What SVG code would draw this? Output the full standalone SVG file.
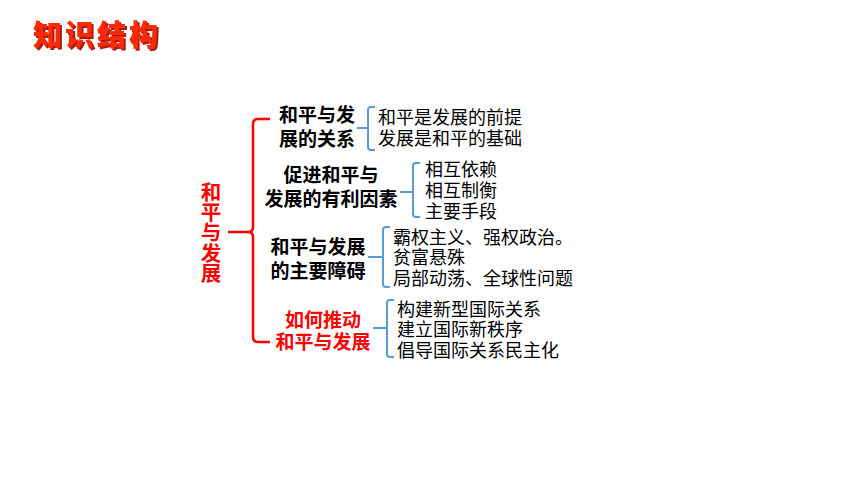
<svg xmlns="http://www.w3.org/2000/svg" width="860" height="484" viewBox="0 0 860 484">
<defs>
<filter id="sh" x="-10%" y="-20%" width="130%" height="150%">
<feDropShadow dx="2" dy="2" stdDeviation="0.6" flood-color="#a00000" flood-opacity="0.9"/>
</filter>
</defs>
<style>
.title{font-family:"Noto Sans CJK SC","Noto Sans CJK JP",sans-serif;font-weight:900;font-size:29px;letter-spacing:3px;fill:#ff2a00}
.node{font-family:"Noto Sans CJK SC","Noto Sans CJK JP",sans-serif;font-weight:700;font-size:19px;text-anchor:middle;fill:#000}
.red{fill:#ff0000}
.vert{font-size:20.5px;writing-mode:vertical-rl;text-anchor:start;letter-spacing:-0.3px}
.item{font-family:"Noto Sans CJK SC","Noto Sans CJK JP",sans-serif;font-size:18px;fill:#000}
.br{fill:none;stroke:#5b9bd5;stroke-width:2}
.rb{fill:none;stroke:#ff0000;stroke-width:2.5}
</style>
<rect width="860" height="484" fill="#ffffff"/>
<g id="title">
<text class="title" x="33" y="46" filter="url(#sh)">知识结构</text>
</g>
<g id="root">
<text class="node red vert" x="211" y="182">和平与发展</text>
</g>
<g id="n1"><text class="node" x="317" y="122">和平与发<tspan x="317" dy="24">展的关系</tspan></text></g>
<g id="n2"><text class="node" x="331" y="182">促进和平与<tspan x="331" dy="24">发展的有利因素</tspan></text></g>
<g id="n3"><text class="node" x="318" y="254">和平与发展<tspan x="318" dy="24">的主要障碍</tspan></text></g>
<g id="n4"><text class="node red" x="323" y="327">如何推动<tspan x="323" dy="22">和平与发展</tspan></text></g>
<g id="i1"><text class="item" x="378" y="124">和平是发展的前提<tspan x="378" dy="21">发展是和平的基础</tspan></text></g>
<g id="i2"><text class="item" x="425" y="176">相互依赖<tspan x="425" dy="21">相互制衡</tspan><tspan x="425" dy="21">主要手段</tspan></text></g>
<g id="i3"><text class="item" x="393" y="244">霸权主义、强权政治。<tspan x="393" dy="20">贫富悬殊</tspan><tspan x="393" dy="21">局部动荡、全球性问题</tspan></text></g>
<g id="i4"><text class="item" x="397" y="316">构建新型国际关系<tspan x="397" dy="20">建立国际新秩序</tspan><tspan x="397" dy="21">倡导国际关系民主化</tspan></text></g>
<g id="connectors">
<path class="rb" d="M270,119 H258 Q253,119 253,124 V227 Q253,232 248,232 H228 M248,232 Q253,232 253,237 V337 Q253,342 258,342 H270"/>
<path class="br" d="M357,128 H368 M375,107 H371 Q368,107 368,110 V147 Q368,150 371,150 H375"/>
<path class="br" d="M400,192 H413 M420,163 H416 Q413,163 413,166 V214 Q413,217 416,217 H420"/>
<path class="br" d="M368,257 H383 M390,227 H386 Q383,227 383,230 V284 Q383,287 386,287 H390"/>
<path class="br" d="M373,328 H387 M394,300 H390 Q387,300 387,303 V354 Q387,357 390,357 H394"/>
</g>
</svg>
